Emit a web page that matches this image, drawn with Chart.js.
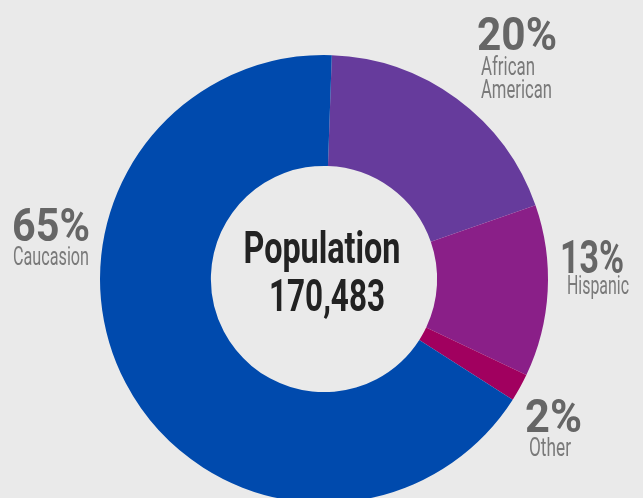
<!DOCTYPE html>
<html>
<head>
<meta charset="utf-8">
<script src="https://cdn.jsdelivr.net/npm/chart.js@4"></script>
<style>
  html, body { margin: 0; padding: 0; background: #eaeaea; overflow: hidden; }
  canvas { display: block; }
</style>
</head>
<body>
<canvas id="popChart" width="643" height="520"></canvas>
<script>
// slices, clockwise from the top
const categories = ['African American', 'Hispanic', 'Other', 'Caucasion'];
const shares = [19.1, 12.4, 2.0, 66.5];          // share of arc
const pctLabels = ['20%', '13%', '2%', '65%'];   // printed percentages
const nameLines = [['African', 'American'], ['Hispanic'], ['Other'], ['Caucasion']];
const centerTitle = 'Population';
const centerValue = '170,483';

const sliceColors = ['#663b9c', '#8a1f88', '#a1005f', '#004aad'];

// where each outside label sits (left x, baseline of the percent, widths)
const labelLayout = [
    { x: 477, y: 50, w: 80, nx: 481, ny: 75, nw: [54, 71] },
    { x: 560, y: 273, w: 64, nx: 567, ny: 294, nw: [62] },
    { x: 525, y: 432, w: 57, nx: 529, ny: 456, nw: [42] },
    { x: 12, y: 241, w: 78, nx: 13, ny: 265, nw: [76] }
];

function drawLabels(chart) {
    const ctx = chart.ctx;
    ctx.save();
    ctx.textBaseline = 'alphabetic';
    ctx.textAlign = 'left';
    labelLayout.forEach(function (l, i) {
        ctx.fillStyle = '#666666';
        ctx.font = 'bold 46px Roboto';
        ctx.fillText(pctLabels[i], l.x, l.y, l.w);
        ctx.fillStyle = '#7a7a7a';
        ctx.font = '25px Roboto';
        nameLines[i].forEach(function (line, j) {
            ctx.fillText(line, l.nx, l.ny + j * 23, l.nw[j]);
        });
    });

    // text in the hole
    ctx.textAlign = 'center';
    ctx.fillStyle = '#222222';
    ctx.font = 'bold 44px Roboto';
    ctx.fillText(centerTitle, 322, 263, 157);
    ctx.fillText(centerValue, 327, 311, 116);
    ctx.restore();
}

new Chart(document.getElementById('popChart').getContext('2d'), {
    type: 'doughnut',
    data: {
        labels: categories,
        datasets: [{
            data: shares,
            backgroundColor: sliceColors,
            borderWidth: 0
        }]
    },
    options: {
        responsive: false,
        animation: false,
        cutout: '50.5%',
        rotation: 2,
        layout: { padding: { left: 100, right: 95, top: 55, bottom: 17 } },
        plugins: {
            legend: { display: false },
            tooltip: { enabled: false }
        }
    },
    plugins: [{ id: 'labels', afterDraw: drawLabels }]
});
</script>
</body>
</html>
